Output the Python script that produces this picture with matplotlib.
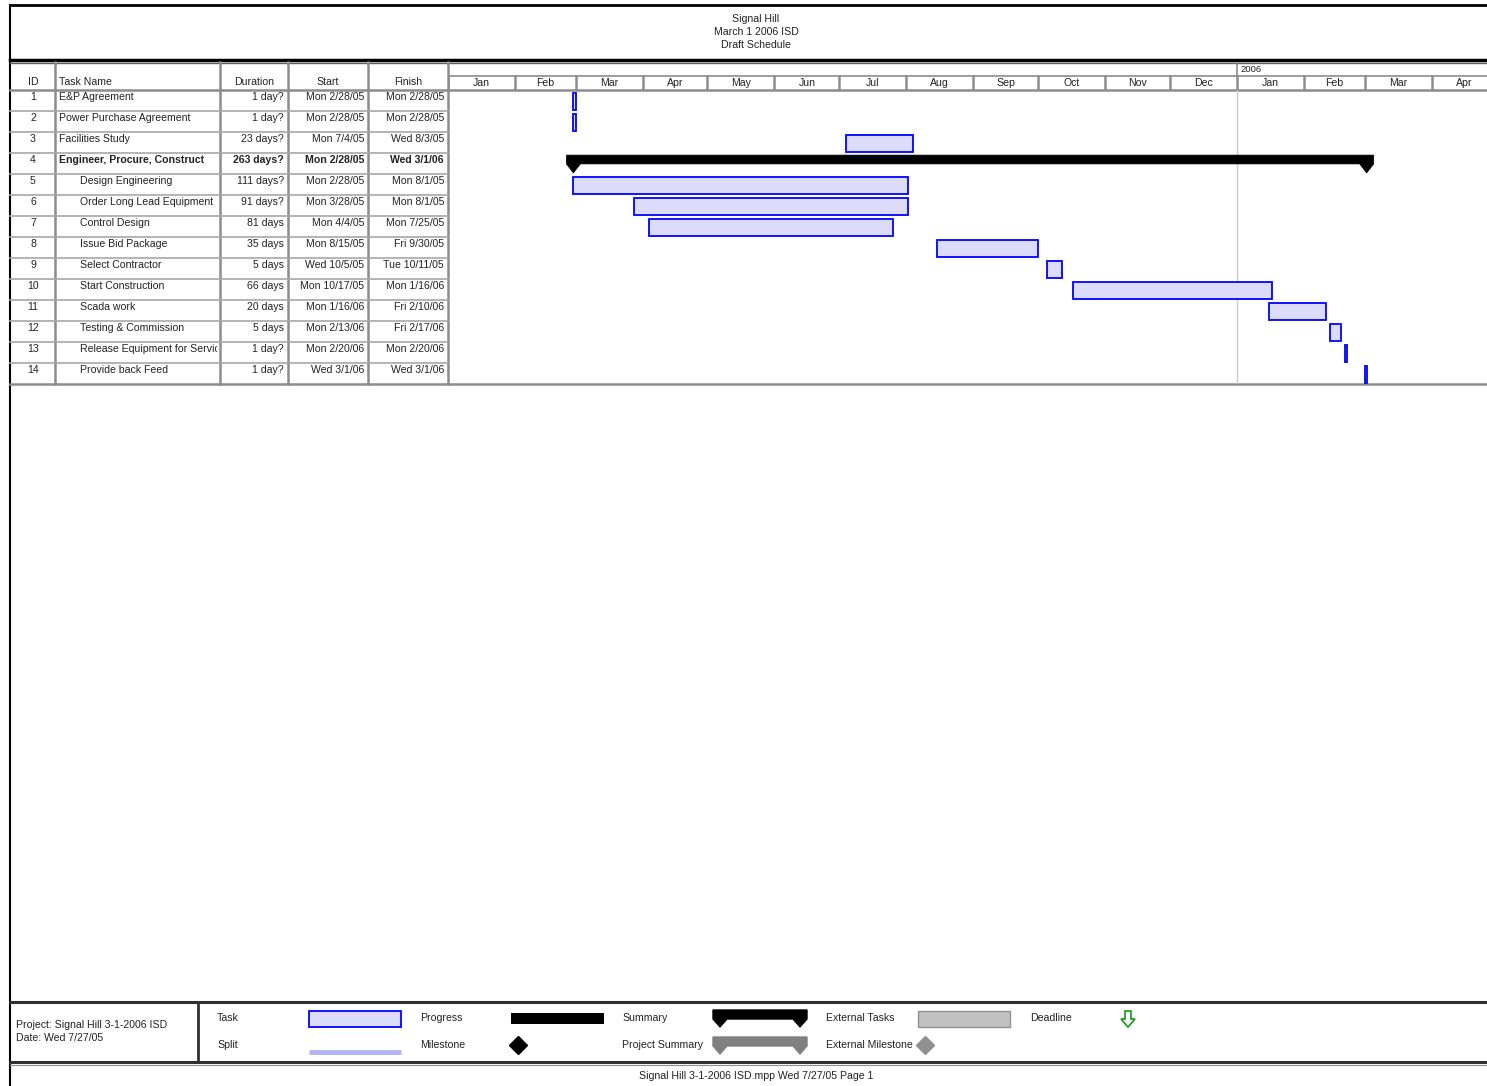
import datetime as dt
import matplotlib
matplotlib.use("Agg")
import matplotlib.pyplot as plt
import matplotlib.dates as mdates
from matplotlib.patches import Polygon, Rectangle

plt.rcParams['font.family'] = ['Liberation Sans', 'DejaVu Sans']

# schedule data
task_ids = list(range(1, 15))
task_names = ["E&P Agreement", "Power Purchase Agreement", "Facilities Study",
              "Engineer, Procure, Construct", "Design Engineering",
              "Order Long Lead Equipment", "Control Design", "Issue Bid Package",
              "Select Contractor", "Start Construction", "Scada work",
              "Testing & Commission", "Release Equipment for Service",
              "Provide back Feed"]
durations = ["1 day?", "1 day?", "23 days?", "263 days?", "111 days?", "91 days?",
             "81 days", "35 days", "5 days", "66 days", "20 days", "5 days",
             "1 day?", "1 day?"]
starts = ["Mon 2/28/05", "Mon 2/28/05", "Mon 7/4/05", "Mon 2/28/05", "Mon 2/28/05",
          "Mon 3/28/05", "Mon 4/4/05", "Mon 8/15/05", "Wed 10/5/05", "Mon 10/17/05",
          "Mon 1/16/06", "Mon 2/13/06", "Mon 2/20/06", "Wed 3/1/06"]
finishes = ["Mon 2/28/05", "Mon 2/28/05", "Wed 8/3/05", "Wed 3/1/06", "Mon 8/1/05",
            "Mon 8/1/05", "Mon 7/25/05", "Fri 9/30/05", "Tue 10/11/05", "Mon 1/16/06",
            "Fri 2/10/06", "Fri 2/17/06", "Mon 2/20/06", "Wed 3/1/06"]
outline_level = [0, 0, 0, 0, 1, 1, 1, 1, 1, 1, 1, 1, 1, 1]
summary_ids = [4]

month_labels = ["Jan", "Feb", "Mar", "Apr", "May", "Jun", "Jul", "Aug", "Sep",
                "Oct", "Nov", "Dec", "Jan", "Feb", "Mar", "Apr"]
first_month = dt.date(2005, 1, 1)
year_label = "2006"

title_lines = ["Signal Hill", "March 1 2006 ISD", "Draft Schedule"]
project_info = ["Project: Signal Hill 3-1-2006 ISD", "Date: Wed 7/27/05"]
footer_text = "Signal Hill 3-1-2006 ISD.mpp Wed 7/27/05 Page 1"


def parse(s):
    m, d, y = s.split()[1].split("/")
    return dt.date(2000 + int(y), int(m), int(d))


W, H = 1487, 1086
FS = 7.6
TXT = '#222222'
GRID = '#8c8c8c'

fig = plt.figure(figsize=(W / 100, H / 100), dpi=100)

# page axes in pixel units for frames, table and legend
page = fig.add_axes([0, 0, 1, 1])
page.set_xlim(0, W)
page.set_ylim(H, 0)
page.axis('off')

# outer frame and title block
page.plot([10, 10], [5, H], color='black', lw=1.5)
page.plot([10, W], [5, 5], color='black', lw=2)
page.plot([10, W], [59.5, 59.5], color='black', lw=2.5)
page.plot([10, W], [62.5, 62.5], color='#606060', lw=1)
for k, line in enumerate(title_lines):
    page.text(756, 19 + 13 * k, line, ha='center', va='center', fontsize=FS, color=TXT)

# table
col_x = [10, 55, 220, 288, 368, 448]
row_top = 90
row_h = 21
table_bottom = row_top + row_h * len(task_ids)
for x in col_x[1:]:
    page.plot([x, x], [62, table_bottom], color=GRID, lw=1.8)
page.plot([10, W], [row_top, row_top], color=GRID, lw=1.8)
for k in range(1, len(task_ids)):
    y = row_top + row_h * k
    page.plot([10, 448], [y, y], color='#a8a8a8', lw=1.2)
page.plot([10, W], [table_bottom, table_bottom], color=GRID, lw=1.8)

hy = 82
page.text(33, hy, "ID", ha='center', va='center', fontsize=FS, color=TXT)
page.text(59, hy, "Task Name", ha='left', va='center', fontsize=FS, color=TXT)
page.text(254, hy, "Duration", ha='center', va='center', fontsize=FS, color=TXT)
page.text(328, hy, "Start", ha='center', va='center', fontsize=FS, color=TXT)
page.text(408, hy, "Finish", ha='center', va='center', fontsize=FS, color=TXT)

# names are cut off at the column edge like in the printout
name_clip = Rectangle((55, row_top), 162, row_h * len(task_ids), transform=page.transData,
                      fill=False, visible=False)
page.add_patch(name_clip)
for k, tid in enumerate(task_ids):
    y = row_top + row_h * k + 7
    wt = 'bold' if tid in summary_ids else 'normal'
    page.text(33, y, str(tid), ha='center', va='center', fontsize=FS, color=TXT)
    t = page.text(59 + 21 * outline_level[k], y, task_names[k], ha='left', va='center',
                  fontsize=FS, color=TXT, fontweight=wt, clip_on=True)
    t.set_clip_path(name_clip)
    page.text(284, y, durations[k], ha='right', va='center', fontsize=FS, color=TXT, fontweight=wt)
    page.text(364, y, starts[k], ha='right', va='center', fontsize=FS, color=TXT, fontweight=wt)
    page.text(444, y, finishes[k], ha='right', va='center', fontsize=FS, color=TXT, fontweight=wt)

# timescale: 789 px per year
px_per_day = 789 / 365
t0 = mdates.date2num(first_month)
xlim = (t0, t0 + (W - 448) / px_per_day)
month_starts = [dt.date(2005 + (m // 12), m % 12 + 1, 1) for m in range(len(month_labels) + 1)]
new_year = mdates.date2num(dt.date(2006, 1, 1))

hx = fig.add_axes([448 / W, 1 - 90 / H, (W - 448) / W, 28 / H])
hx.set_xlim(*xlim)
hx.set_ylim(28, 0)
hx.axis('off')
hx.plot(xlim, [14, 14], color=GRID, lw=1.2)
hx.plot([new_year, new_year], [0, 14], color=GRID, lw=1.2)
hx.text(new_year + 1.5, 7, year_label, ha='left', va='center', fontsize=6.8, color=TXT)
for k, lab in enumerate(month_labels):
    a = mdates.date2num(month_starts[k])
    b = mdates.date2num(month_starts[k + 1])
    hx.plot([a, a], [14, 28], color=GRID, lw=1.8)
    hx.text((a + b) / 2, 21, lab, ha='center', va='center', fontsize=FS, color=TXT)

# gantt bars
gx = fig.add_axes([448 / W, 1 - table_bottom / H, (W - 448) / W, row_h * len(task_ids) / H])
gx.set_xlim(*xlim)
gx.set_ylim(len(task_ids) + 0.5, 0.5)
gx.axis('off')
gx.axvline(new_year, color='#c8c8c8', lw=1, zorder=0)

cap = 7 / px_per_day
for k, tid in enumerate(task_ids):
    s = mdates.date2num(parse(starts[k]))
    e = mdates.date2num(parse(finishes[k])) + 1
    if tid in summary_ids:
        yt, yb, tip = tid - 0.4, tid + 0.02, tid + 0.45
        pts = [(s - cap, yt), (e + cap, yt), (e + cap, yb), (e, tip), (e - cap, yb),
               (s + cap, yb), (s, tip), (s - cap, yb)]
        gx.add_patch(Polygon(pts, closed=True, facecolor='black', edgecolor='black',
                             lw=0.5, zorder=3))
    else:
        gx.barh(tid + 0.05, e - s, left=s, height=0.8, color='#dcdcfa',
                edgecolor='#0000ff', lw=1.3, zorder=3)

# legend block
page.plot([10, W], [1002, 1002], color='#303030', lw=2.2)
page.plot([10, W], [1062, 1062], color='#303030', lw=2.2)
page.plot([10, W], [1065, 1065], color='#909090', lw=0.8)
page.plot([198, 198], [1002, 1062], color='#303030', lw=2)
page.text(16, 1025, project_info[0], ha='left', va='center', fontsize=FS, color=TXT)
page.text(16, 1038, project_info[1], ha='left', va='center', fontsize=FS, color=TXT)

r1, r2 = 1018, 1045
page.text(217, r1, "Task", ha='left', va='center', fontsize=FS, color=TXT)
page.add_patch(Rectangle((309, 1011), 92, 16, facecolor='#dcdcfa', edgecolor='#0000ff', lw=1.3))
page.text(217, r2, "Split", ha='left', va='center', fontsize=FS, color=TXT)
page.plot([309, 401], [1052, 1052], color='#b4b4f4', lw=3.5, solid_capstyle='butt')

page.text(420, r1, "Progress", ha='left', va='center', fontsize=FS, color=TXT)
page.add_patch(Rectangle((511, 1013), 93, 11, facecolor='black'))
page.text(420, r2, "Milestone", ha='left', va='center', fontsize=FS, color=TXT)
page.plot([518], [1045], marker='D', markersize=9, color='black')


def summary_shape(x0, x1, y0, color):
    pts = [(x0, y0), (x1, y0), (x1, y0 + 9), (x1 - 7, y0 + 17), (x1 - 14, y0 + 9),
           (x0 + 14, y0 + 9), (x0 + 7, y0 + 17), (x0, y0 + 9)]
    page.add_patch(Polygon(pts, closed=True, facecolor=color, edgecolor=color))


page.text(622, r1, "Summary", ha='left', va='center', fontsize=FS, color=TXT)
summary_shape(713, 807, 1010, 'black')
page.text(622, r2, "Project Summary", ha='left', va='center', fontsize=FS, color=TXT)
summary_shape(713, 807, 1037, '#808080')

page.text(826, r1, "External Tasks", ha='left', va='center', fontsize=FS, color=TXT)
page.add_patch(Rectangle((918, 1011), 92, 16, facecolor='#c0c0c0', edgecolor='#909090', lw=1))
page.text(826, r2, "External Milestone", ha='left', va='center', fontsize=FS, color=TXT)
page.plot([925], [1045], marker='D', markersize=9, color='#909090')

page.text(1030, r1, "Deadline", ha='left', va='center', fontsize=FS, color=TXT)
arrow = [(1125, 1011), (1131, 1011), (1131, 1019), (1135, 1019), (1128, 1027),
         (1121, 1019), (1125, 1019)]
page.add_patch(Polygon(arrow, closed=True, facecolor='white', edgecolor='#2a9a2a', lw=1.3))

page.text(756, 1076, footer_text, ha='center', va='center', fontsize=FS, color=TXT)

fig.savefig("out.png", dpi=100)
